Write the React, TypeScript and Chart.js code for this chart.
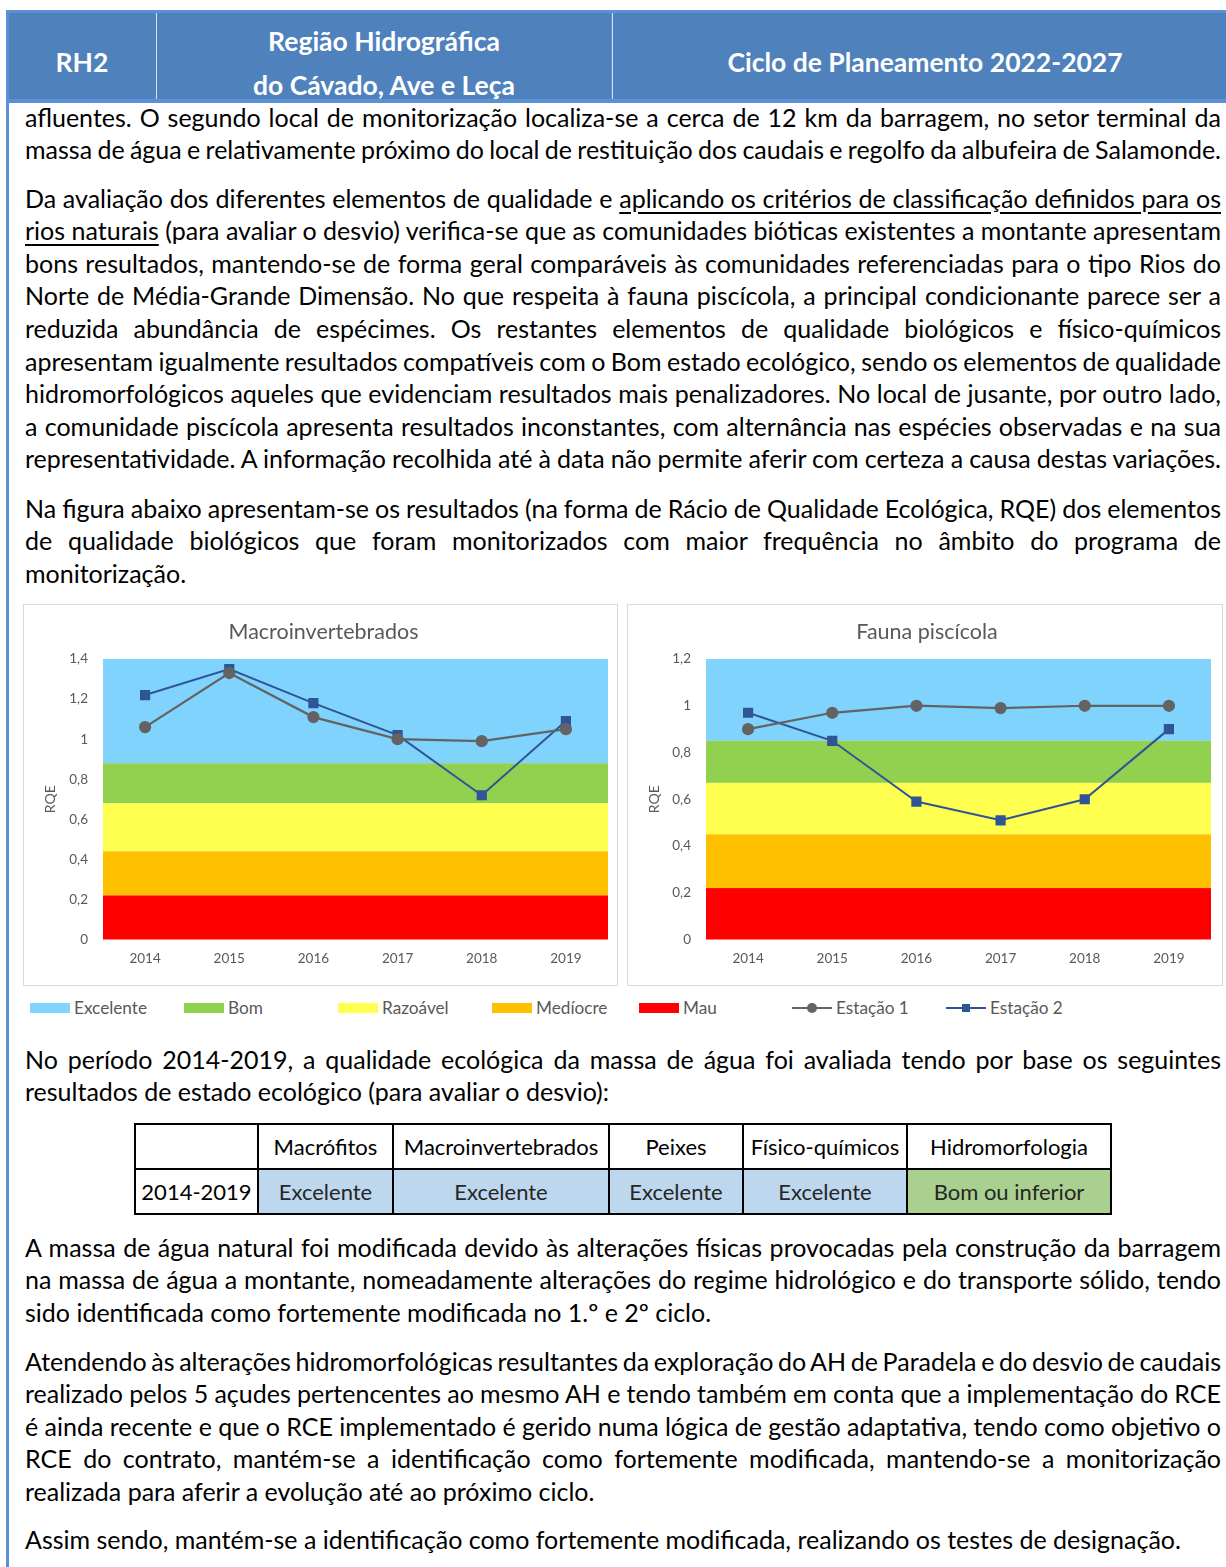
import React, { useEffect, useLayoutEffect, useRef } from "react";
import { Chart, registerables } from "chart.js";

Chart.register(...registerables);

const FONT = "Lato, 'Open Sans', sans-serif";
const GREY = "#595959";

// ---- chart data ----
const years = ["2014", "2015", "2016", "2017", "2018", "2019"];

const macroEstacao1 = [1.06, 1.33, 1.11, 1.0, 0.99, 1.05];
const macroEstacao2 = [1.22, 1.35, 1.18, 1.02, 0.72, 1.09];

const peixesEstacao1 = [0.9, 0.97, 1.0, 0.99, 1.0, 1.0];
const peixesEstacao2 = [0.97, 0.85, 0.59, 0.51, 0.6, 0.9];

const classNames = ["Excelente", "Bom", "Razoável", "Medíocre", "Mau"];
const classColors = ["#80d3fd", "#92d050", "#ffff4f", "#ffc000", "#ff0000"];
// lower limit of each quality class, from Excelente down to Mau
const macroLowerBounds = [0.88, 0.68, 0.44, 0.22, 0];
const peixesLowerBounds = [0.85, 0.67, 0.45, 0.22, 0];

const seriesNames = ["Estação 1", "Estação 2"];
const seriesColors = ["#636363", "#2f5597"];

// ---- table data ----
const tableHeaders = ["Macrófitos", "Macroinvertebrados", "Peixes", "Físico-químicos", "Hidromorfologia"];
const tablePeriod = "2014-2019";
const tableResults = ["Excelente", "Excelente", "Excelente", "Excelente", "Bom ou inferior"];
const tableColors = ["#bdd7ee", "#bdd7ee", "#bdd7ee", "#bdd7ee", "#a9d08e"];
const tableColWidths = [123, 135, 216, 134, 164, 204];

const bandsPlugin = {
  id: "qualityBands",
  beforeDatasetsDraw(chart: any, _args: any, opts: any) {
    const { ctx, chartArea, scales } = chart;
    const y = scales.y;
    const bounds: number[] = opts.lowerBounds || [];
    ctx.save();
    bounds.forEach((lower, i) => {
      const upper = i === 0 ? y.max : bounds[i - 1];
      const top = y.getPixelForValue(upper);
      const bottom = y.getPixelForValue(lower);
      ctx.fillStyle = classColors[i];
      ctx.fillRect(chartArea.left, top, chartArea.right - chartArea.left, bottom - top);
    });
    ctx.restore();
  },
};

type ChartProps = {
  title: string;
  max: number;
  est1: number[];
  est2: number[];
  lowerBounds: number[];
  width: number;
  height: number;
  axisWidth: number;
  padRight: number;
};

function RqeChart({ title, max, est1, est2, lowerBounds, width, height, axisWidth, padRight }: ChartProps) {
  const ref = useRef<HTMLCanvasElement>(null);
  useEffect(() => {
    const chart = new Chart(ref.current as HTMLCanvasElement, {
      type: "line",
      data: {
        labels: years,
        datasets: [
          {
            label: seriesNames[0],
            data: est1,
            borderColor: seriesColors[0],
            backgroundColor: seriesColors[0],
            pointBorderColor: seriesColors[0],
            pointBackgroundColor: seriesColors[0],
            borderWidth: 2.25,
            pointRadius: 5,
            pointStyle: "circle",
            tension: 0,
          },
          {
            label: seriesNames[1],
            data: est2,
            borderColor: seriesColors[1],
            backgroundColor: seriesColors[1],
            pointBorderColor: seriesColors[1],
            pointBackgroundColor: seriesColors[1],
            borderWidth: 2,
            pointRadius: 5.8,
            pointStyle: "rect",
            tension: 0,
          },
        ],
      },
      options: {
        animation: false,
        responsive: false,
        maintainAspectRatio: false,
        layout: { padding: { left: 15, right: padRight, top: 0, bottom: 0 } },
        plugins: {
          legend: { display: false },
          tooltip: { enabled: false },
          title: {
            display: true,
            text: title,
            color: GREY,
            font: { family: FONT, size: 21.5, weight: "normal" },
            padding: { top: 14, bottom: 14.2 },
          },
          qualityBands: { lowerBounds },
        } as any,
        scales: {
          x: {
            grid: { display: false, drawTicks: false },
            border: { display: false },
            offset: true,
            ticks: { color: GREY, font: { family: FONT, size: 13.5 }, padding: 11 },
            afterFit: (s: any) => {
              s.height = 45.5;
            },
          },
          y: {
            min: 0,
            max,
            grid: { display: false, drawTicks: false },
            border: { display: false },
            ticks: {
              stepSize: 0.2,
              color: GREY,
              font: { family: FONT, size: 13.5 },
              padding: 15,
              callback: (v: any) => String(Number(Number(v).toFixed(1))).replace(".", ","),
            },
            title: {
              display: true,
              text: "RQE",
              color: GREY,
              font: { family: FONT, size: 14 },
              padding: { top: 3, bottom: 0 },
            },
            afterFit: (s: any) => {
              s.width = axisWidth;
            },
          },
        },
      },
      plugins: [bandsPlugin],
    });
    return () => chart.destroy();
  }, []);
  return <canvas ref={ref} width={width} height={height} style={{ display: "block", width, height }} />;
}

const TEXT_LEFT = 25;
const TEXT_WIDTH = 1196;
const LINE_H = 32.6;
const TEXT_SHIFT = -1.5;

type LineSpec = { c: React.ReactNode; j?: boolean };

function TextLine({ top, spec }: { top: number; spec: LineSpec }) {
  const ref = useRef<HTMLSpanElement>(null);
  useLayoutEffect(() => {
    if (!spec.j) return;
    const el = ref.current as HTMLSpanElement;
    const fit = () => {
      el.style.wordSpacing = "0px";
      const w = el.getBoundingClientRect().width;
      const spaces = (el.textContent || "").split(" ").length - 1;
      if (spaces > 0) el.style.wordSpacing = `${(TEXT_WIDTH - w) / spaces}px`;
    };
    fit();
    if ((document as any).fonts) (document as any).fonts.ready.then(fit);
  }, []);
  return (
    <div
      style={{
        position: "absolute",
        left: TEXT_LEFT,
        top,
        height: LINE_H,
        lineHeight: `${LINE_H}px`,
        whiteSpace: "nowrap",
      }}
    >
      <span ref={ref}>{spec.c}</span>
    </div>
  );
}

function Paragraph({ top, lines }: { top: number; lines: LineSpec[] }) {
  return (
    <>
      {lines.map((l, i) => (
        <TextLine key={i} top={top + TEXT_SHIFT + i * LINE_H} spec={l} />
      ))}
    </>
  );
}

const U = ({ children }: { children: React.ReactNode }) => (
  <span style={{ textDecoration: "underline", textUnderlineOffset: 4 }}>{children}</span>
);

function Legend() {
  const y = 1008;
  const swatchX = [30, 184, 338, 492, 639];
  const lineX = [792, 946];
  const label: React.CSSProperties = {
    position: "absolute",
    top: y - 11,
    height: 22,
    lineHeight: "22px",
    fontSize: 17.2,
    color: GREY,
    whiteSpace: "nowrap",
  };
  return (
    <>
      {classNames.map((n, i) => (
        <React.Fragment key={n}>
          <div
            style={{ position: "absolute", left: swatchX[i], top: y - 5, width: 40, height: 10, background: classColors[i] }}
          />
          <div style={{ ...label, left: swatchX[i] + 44 }}>{n}</div>
        </React.Fragment>
      ))}
      {seriesNames.map((n, i) => (
        <React.Fragment key={n}>
          <div
            style={{ position: "absolute", left: lineX[i], top: y - 1, width: 40, height: 2, background: seriesColors[i] }}
          />
          <div
            style={{
              position: "absolute",
              left: lineX[i] + 20 - (i === 0 ? 5 : 4),
              top: y - (i === 0 ? 5 : 4),
              width: i === 0 ? 10 : 8,
              height: i === 0 ? 10 : 8,
              borderRadius: i === 0 ? "50%" : 0,
              background: seriesColors[i],
            }}
          />
          <div style={{ ...label, left: lineX[i] + 44 }}>{n}</div>
        </React.Fragment>
      ))}
    </>
  );
}

function ResultsTable() {
  const cell: React.CSSProperties = {
    border: "2px solid #000",
    textAlign: "center",
    verticalAlign: "middle",
    padding: 0,
    height: 43,
    fontSize: 22,
    whiteSpace: "nowrap",
    overflow: "visible",
  };
  return (
    <table
      style={{
        position: "absolute",
        left: 134,
        top: 1123,
        borderCollapse: "collapse",
        tableLayout: "fixed",
        width: tableColWidths.reduce((a, b) => a + b, 0),
        fontFamily: FONT,
        color: "#000",
      }}
    >
      <colgroup>
        {tableColWidths.map((w, i) => (
          <col key={i} style={{ width: w }} />
        ))}
      </colgroup>
      <tbody>
        <tr>
          <td style={cell} />
          {tableHeaders.map((h) => (
            <td key={h} style={cell}>
              {h}
            </td>
          ))}
        </tr>
        <tr>
          <td style={cell}>{tablePeriod}</td>
          {tableResults.map((r, i) => (
            <td key={i} style={{ ...cell, background: tableColors[i], color: "#262626" }}>
              {r}
            </td>
          ))}
        </tr>
      </tbody>
    </table>
  );
}

function Header() {
  const cellText: React.CSSProperties = {
    position: "absolute",
    color: "#fff",
    fontWeight: 700,
    fontSize: 26.5,
    whiteSpace: "nowrap",
    transform: "translate(-50%, -50%)",
    lineHeight: "32px",
  };
  return (
    <>
      <div style={{ position: "absolute", left: 6, top: 10, width: 1240, height: 93, background: "#5b8fd6" }} />
      <div style={{ position: "absolute", left: 9, top: 13, width: 147, height: 86, background: "#4f81bd" }} />
      <div style={{ position: "absolute", left: 157, top: 13, width: 454, height: 86, background: "#4f81bd" }} />
      <div style={{ position: "absolute", left: 613, top: 13, width: 640, height: 86, background: "#4f81bd" }} />
      <div style={{ position: "absolute", left: 156, top: 13, width: 1, height: 86, background: "#d6e2f2" }} />
      <div style={{ position: "absolute", left: 612, top: 13, width: 1, height: 86, background: "#d6e2f2" }} />
      <div style={{ ...cellText, left: 82, top: 62 }}>RH2</div>
      <div style={{ ...cellText, left: 384, top: 41 }}>Região Hidrográfica</div>
      <div style={{ ...cellText, left: 384, top: 85 }}>do Cávado, Ave e Leça</div>
      <div style={{ ...cellText, left: 925, top: 62 }}>Ciclo de Planeamento 2022-2027</div>
      <div style={{ position: "absolute", left: 6, top: 102, width: 3, height: 1465, background: "#5b8fd6" }} />
    </>
  );
}

export default function App() {
  return (
    <div
      style={{
        position: "relative",
        width: 1226,
        height: 1567,
        overflow: "hidden",
        background: "#fff",
        fontFamily: FONT,
        fontSize: 25,
        color: "#000",
      }}
    >
      <style>{"body{margin:0}"}</style>
      <Header />

      <Paragraph
        top={102}
        lines={[
          { c: "afluentes. O segundo local de monitorização localiza-se a cerca de 12 km da barragem, no setor terminal da", j: true },
          { c: "massa de água e relativamente próximo do local de restituição dos caudais e regolfo da albufeira de Salamonde.", j: true },
        ]}
      />

      <Paragraph
        top={183}
        lines={[
          {
            c: (
              <>
                Da avaliação dos diferentes elementos de qualidade e{" "}
                <U>aplicando os critérios de classificação definidos para os</U>
              </>
            ),
            j: true,
          },
          {
            c: (
              <>
                <U>rios naturais</U> (para avaliar o desvio) verifica-se que as comunidades bióticas existentes a montante apresentam
              </>
            ),
            j: true,
          },
          { c: "bons resultados, mantendo-se de forma geral comparáveis às comunidades referenciadas para o tipo Rios do", j: true },
          { c: "Norte de Média-Grande Dimensão. No que respeita à fauna piscícola, a principal condicionante parece ser a", j: true },
          { c: "reduzida abundância de espécimes. Os restantes elementos de qualidade biológicos e físico-químicos", j: true },
          { c: "apresentam igualmente resultados compatíveis com o Bom estado ecológico, sendo os elementos de qualidade", j: true },
          { c: "hidromorfológicos aqueles que evidenciam resultados mais penalizadores. No local de jusante, por outro lado,", j: true },
          { c: "a comunidade piscícola apresenta resultados inconstantes, com alternância nas espécies observadas e na sua", j: true },
          { c: "representatividade. A informação recolhida até à data não permite aferir com certeza a causa destas variações.", j: true },
        ]}
      />

      <Paragraph
        top={493}
        lines={[
          { c: "Na figura abaixo apresentam-se os resultados (na forma de Rácio de Qualidade Ecológica, RQE) dos elementos", j: true },
          { c: "de qualidade biológicos que foram monitorizados com maior frequência no âmbito do programa de", j: true },
          { c: "monitorização." },
        ]}
      />

      <div style={{ position: "absolute", left: 23, top: 604, border: "1px solid #d9d9d9", background: "#fff" }}>
        <RqeChart
          title="Macroinvertebrados"
          max={1.4}
          est1={macroEstacao1}
          est2={macroEstacao2}
          lowerBounds={macroLowerBounds}
          width={593}
          height={380}
          axisWidth={64}
          padRight={9}
        />
      </div>
      <div style={{ position: "absolute", left: 627, top: 604, border: "1px solid #d9d9d9", background: "#fff" }}>
        <RqeChart
          title="Fauna piscícola"
          max={1.2}
          est1={peixesEstacao1}
          est2={peixesEstacao2}
          lowerBounds={peixesLowerBounds}
          width={594}
          height={380}
          axisWidth={63}
          padRight={11}
        />
      </div>

      <Legend />

      <Paragraph
        top={1044}
        lines={[
          { c: "No período 2014-2019, a qualidade ecológica da massa de água foi avaliada tendo por base os seguintes", j: true },
          { c: "resultados de estado ecológico (para avaliar o desvio):" },
        ]}
      />

      <ResultsTable />

      <Paragraph
        top={1232}
        lines={[
          { c: "A massa de água natural foi modificada devido às alterações físicas provocadas pela construção da barragem", j: true },
          { c: "na massa de água a montante, nomeadamente alterações do regime hidrológico e do transporte sólido, tendo", j: true },
          { c: "sido identificada como fortemente modificada no 1.º e 2º ciclo." },
        ]}
      />

      <Paragraph
        top={1346}
        lines={[
          { c: "Atendendo às alterações hidromorfológicas resultantes da exploração do AH de Paradela e do desvio de caudais", j: true },
          { c: "realizado pelos 5 açudes pertencentes ao mesmo AH e tendo também em conta que a implementação do RCE", j: true },
          { c: "é ainda recente e que o RCE implementado é gerido numa lógica de gestão adaptativa, tendo como objetivo o", j: true },
          { c: "RCE do contrato, mantém-se a identificação como fortemente modificada, mantendo-se a monitorização", j: true },
          { c: "realizada para aferir a evolução até ao próximo ciclo." },
        ]}
      />

      <Paragraph
        top={1524}
        lines={[{ c: "Assim sendo, mantém-se a identificação como fortemente modificada, realizando os testes de designação." }]}
      />
    </div>
  );
}
